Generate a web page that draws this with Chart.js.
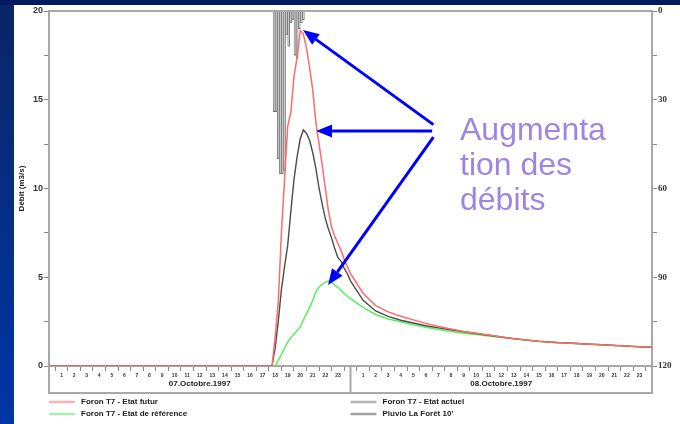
<!DOCTYPE html>
<html lang="fr">
<head>
<meta charset="UTF-8">
<title>Foron T7 - Augmentation des débits</title>
<script src="https://cdn.jsdelivr.net/npm/chart.js@4"></script>
<style>
  html, body { margin: 0; padding: 0; }
  body { width: 680px; height: 424px; overflow: hidden; position: relative;
         background: linear-gradient(#0a2566, #0036a6); }
  #topband { position: absolute; left: 0; top: 0; width: 680px; height: 5px; background: #001c5e; }
  #paper { position: absolute; left: 14px; top: 5px; width: 666px; height: 419px; background: #fff; }
  #chart { position: absolute; left: 0; top: 0; }
  #note { position: absolute; left: 460px; top: 112px; font: 32px "Liberation Sans", Arial, sans-serif;
          line-height: 35px; color: #9f85e3; }
</style>
</head>
<body>
<div id="topband"></div>
<div id="paper"></div>
<canvas id="chart" width="680" height="424"></canvas>
<div id="note">Augmenta<br>tion des<br>débits</div>
<script>
// hours counted from 07.10.1997 00:00
const hours = [0, 17.75, 18, 18.25, 18.5, 18.75, 19, 19.25, 19.5, 19.75, 20, 20.25, 20.5, 20.75,
  21, 21.25, 21.5, 21.75, 22, 22.25, 22.5, 22.75, 23, 23.25, 23.5, 23.75, 24,
  25, 26, 27, 28, 29, 30, 31, 32, 33, 34, 35, 36, 37, 38, 39, 40, 41, 42, 43, 44, 45, 46, 47, 48];

// débits (m3/s)
const etatFutur = [0, 0, 1.6, 3.6, 7.5, 10.5, 13.5, 14.3, 16.3, 17.4, 18.9, 18.7, 17.9, 16.8,
  15.5, 13.7, 12.5, 11.3, 10.0, 8.7, 7.8, 7.3, 6.9, 6.5, 6.0, 5.6, 5.2,
  4.1, 3.4, 3.05, 2.8, 2.6, 2.4, 2.22, 2.08, 1.95, 1.84, 1.74, 1.63, 1.54, 1.46, 1.39, 1.34,
  1.3, 1.27, 1.23, 1.2, 1.16, 1.12, 1.08, 1.05];
const etatActuel = [0, 0, 1.0, 2.5, 4.3, 5.6, 6.8, 8.7, 10.5, 11.8, 12.8, 13.3, 13.1, 12.7,
  12.0, 11.1, 10.0, 9.1, 8.3, 7.7, 7.2, 6.6, 6.1, 5.9, 5.5, 5.2, 4.8,
  3.7, 3.1, 2.8, 2.58, 2.42, 2.27, 2.15, 2.04, 1.93, 1.83, 1.73, 1.63, 1.54, 1.46, 1.39, 1.34,
  1.3, 1.27, 1.23, 1.2, 1.16, 1.12, 1.08, 1.05];
const etatReference = [0, 0, 0, 0.3, 0.65, 1.0, 1.35, 1.6, 1.8, 2.0, 2.2, 2.6, 2.95, 3.3,
  3.7, 4.2, 4.45, 4.6, 4.72, 4.78, 4.7, 4.55, 4.42, 4.25, 4.08, 3.93, 3.8,
  3.3, 2.9, 2.65, 2.49, 2.32, 2.18, 2.06, 1.95, 1.85, 1.77, 1.69, 1.61, 1.53, 1.46, 1.39, 1.34,
  1.3, 1.27, 1.23, 1.2, 1.16, 1.12, 1.08, 1.05];

// Pluvio La Forêt, pas de 10'
const rainHours = [17.92, 18.08, 18.25, 18.42, 18.58, 18.75, 18.92, 19.08, 19.25, 19.42, 19.58, 19.75, 19.92, 20.08, 20.25];
const rain = [34, 34, 50, 55, 55, 54, 8, 12, 4, 3, 15, 16, 6, 4, 3];

const dayLabels = ['07.Octobre.1997', '08.Octobre.1997'];
const legendItems = [
  ['Foron T7 - Etat futur', '#ffb0b0'],
  ['Foron T7 - Etat de référence', '#a8f0a8'],
  ['Foron T7 - Etat actuel', '#b4b4b4'],
  ["Pluvio La Forêt 10'", '#a0a0a0']
];

// annotation arrows, in (heure, débit)
const arrowTails = [[30.6, 13.6], [30.5, 13.24], [30.6, 12.9]];
const arrowTips = [[20.22, 18.93], [21.26, 13.24], [22.21, 4.56]];

const pts = arr => hours.map((h, i) => ({ x: h, y: arr[i] }));
const FRAME = '#a8a8a8';

const framePlugin = {
  id: 'frame',
  afterDraw(chart) {
    const { ctx, chartArea: a, scales: { x } } = chart;
    const boxBottom = a.bottom + 27;
    const mid = x.getPixelForValue(24);
    ctx.save();
    ctx.strokeStyle = FRAME;
    ctx.lineWidth = 2;
    ctx.beginPath();
    ctx.moveTo(a.left - 1, a.top); ctx.lineTo(a.right + 1, a.top);
    ctx.moveTo(a.left, a.bottom); ctx.lineTo(a.left, boxBottom);
    ctx.lineTo(a.right, boxBottom); ctx.lineTo(a.right, a.bottom);
    ctx.moveTo(mid, a.bottom); ctx.lineTo(mid, boxBottom);
    ctx.stroke();

    ctx.fillStyle = '#222';
    ctx.font = 'bold 8px "Liberation Sans", Arial, sans-serif';
    ctx.textAlign = 'center';
    ctx.textBaseline = 'middle';
    ctx.fillText(dayLabels[0], x.getPixelForValue(12), a.bottom + 18);
    ctx.fillText(dayLabels[1], x.getPixelForValue(36), a.bottom + 18);

    ctx.textAlign = 'left';
    legendItems.forEach((it, i) => {
      const x0 = i < 2 ? a.left : mid;
      const y0 = a.bottom + 36 + (i % 2) * 12;
      ctx.strokeStyle = it[1];
      ctx.lineWidth = 2.5;
      ctx.beginPath();
      ctx.moveTo(x0, y0); ctx.lineTo(x0 + 26, y0);
      ctx.stroke();
      ctx.fillText(it[0], x0 + 32, y0);
    });
    ctx.restore();
  }
};

const arrowPlugin = {
  id: 'arrows',
  afterDatasetsDraw(chart) {
    const { ctx, scales: { x, y } } = chart;
    ctx.save();
    ctx.strokeStyle = '#0000ff';
    ctx.fillStyle = '#0000ff';
    ctx.lineWidth = 3;
    arrowTails.forEach((t, i) => {
      const x1 = x.getPixelForValue(t[0]), y1 = y.getPixelForValue(t[1]);
      const x2 = x.getPixelForValue(arrowTips[i][0]), y2 = y.getPixelForValue(arrowTips[i][1]);
      const ang = Math.atan2(y2 - y1, x2 - x1);
      const len = 16, hw = 6.5;
      const bx = x2 - len * Math.cos(ang), by = y2 - len * Math.sin(ang);
      ctx.beginPath();
      ctx.moveTo(x1, y1); ctx.lineTo(bx, by);
      ctx.stroke();
      ctx.beginPath();
      ctx.moveTo(x2, y2);
      ctx.lineTo(bx + hw * Math.sin(ang), by - hw * Math.cos(ang));
      ctx.lineTo(bx - hw * Math.sin(ang), by + hw * Math.cos(ang));
      ctx.closePath();
      ctx.fill();
    });
    ctx.restore();
  }
};

new Chart(document.getElementById('chart'), {
  type: 'line',
  data: {
    datasets: [
      { label: 'Foron T7 - Etat futur', data: pts(etatFutur), borderColor: '#ff6a6a', borderWidth: 1.5, order: 1 },
      { label: 'Foron T7 - Etat actuel', data: pts(etatActuel), borderColor: '#4c4c4c', borderWidth: 1.4, order: 2 },
      { label: 'Foron T7 - Etat de référence', data: pts(etatReference), borderColor: '#5aee5a', borderWidth: 1.5, order: 3 },
      { type: 'bar', label: "Pluvio La Forêt 10'", yAxisID: 'y2', order: 4,
        data: rainHours.map((h, i) => ({ x: h, y: rain[i] })),
        backgroundColor: '#c4c4c4', borderColor: '#7a7a7a', borderWidth: 1,
        barPercentage: 1, categoryPercentage: 1 }
    ]
  },
  options: {
    responsive: false,
    animation: false,
    layout: { padding: { top: 11 } },
    elements: { point: { radius: 0 }, line: { tension: 0 } },
    plugins: { legend: { display: false }, tooltip: { enabled: false } },
    scales: {
      x: {
        type: 'linear', min: 0, max: 48, offset: false,
        ticks: { stepSize: 1, autoSkip: false, maxRotation: 0, padding: 2, color: '#333',
          font: { size: 5, weight: 'bold', family: '"Liberation Sans", Arial' },
          callback: v => (v % 24 === 0 ? '' : String(v % 24)) },
        grid: { drawOnChartArea: false, tickLength: 5, color: '#888' },
        border: { color: FRAME, width: 2 },
        afterFit: s => { s.height = 58; }
      },
      y: {
        position: 'left', min: 0, max: 20,
        ticks: { stepSize: 2.5, padding: 1, color: '#333',
          font: { size: 9, weight: 'bold', family: '"Liberation Sans", Arial' },
          callback: v => (v % 5 === 0 ? v : '') },
        grid: { drawOnChartArea: false, tickLength: 5, color: '#888' },
        border: { color: FRAME, width: 2 },
        title: { display: true, text: 'Débit (m3/s)', color: '#222', padding: { top: 17, bottom: 0 },
          font: { size: 8, weight: 'bold', family: '"Liberation Sans", Arial' } },
        afterFit: s => { s.width = 49; }
      },
      y2: {
        position: 'right', reverse: true, min: 0, max: 120,
        ticks: { stepSize: 15, padding: 1, color: '#333',
          font: { size: 9, weight: 'bold', family: '"Liberation Serif", serif' },
          callback: v => (v % 30 === 0 ? v : '') },
        grid: { drawOnChartArea: false, tickLength: 5, color: '#888' },
        border: { color: FRAME, width: 2 },
        afterFit: s => { s.width = 28; }
      }
    }
  },
  plugins: [framePlugin, arrowPlugin]
});
</script>
</body>
</html>
